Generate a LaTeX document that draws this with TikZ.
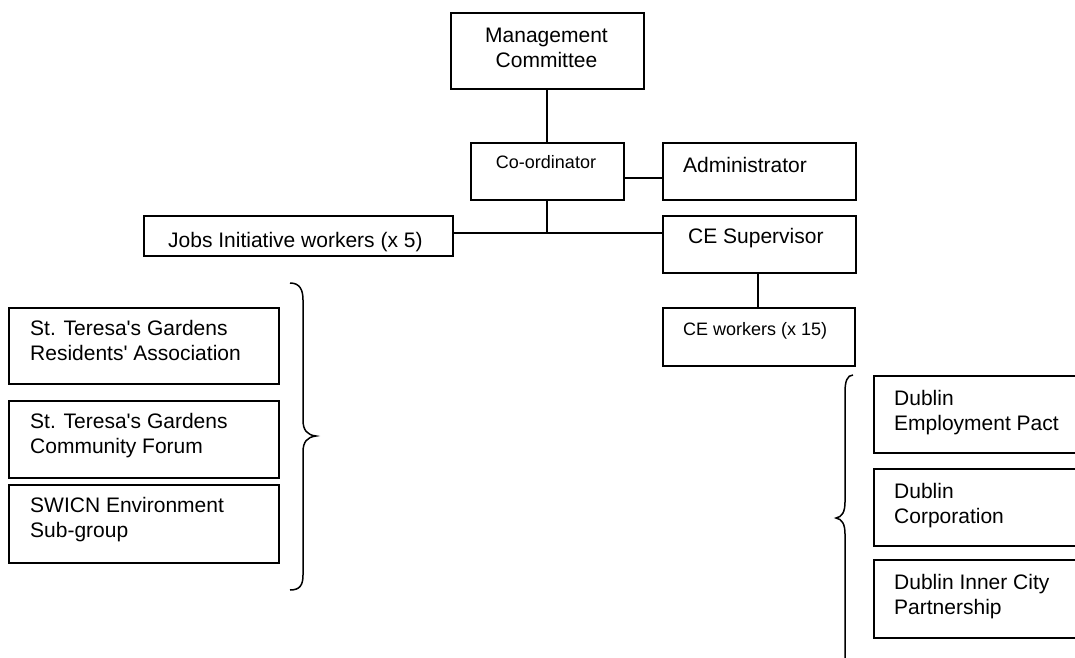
\documentclass[tikz,border=0pt]{standalone}
\usepackage{fontspec}
\setmainfont{Liberation Sans}
\begin{document}
\begin{tikzpicture}[x=1pt,y=-1pt,
  box/.style={draw,line width=1.7pt,inner sep=0pt,rectangle},
  conn/.style={line width=1.5pt},
  big/.style={font=\fontsize{21}{25}\selectfont,inner sep=0pt,align=left},
  small/.style={font=\fontsize{18}{22}\selectfont,inner sep=0pt,align=left},
  brace/.style={line width=1.5pt}]
\clip (0,0) rectangle (1075,657);
\useasboundingbox (0,0) rectangle (1075,657);
\fill[white] (0,0) rectangle (1075,657);
% boxes
\node[box,minimum width=193pt,minimum height=76pt,anchor=north west] (mc) at (450,12) {};
\node[box,minimum width=153pt,minimum height=57pt,anchor=north west] (co) at (470,142) {};
\node[box,minimum width=193pt,minimum height=57pt,anchor=north west] (ad) at (662,142) {};
\node[box,minimum width=309pt,minimum height=40pt,anchor=north west] (jb) at (143,215) {};
\node[box,minimum width=193pt,minimum height=57pt,anchor=north west] (cs) at (662,215) {};
\node[box,minimum width=192pt,minimum height=58pt,anchor=north west] (cw) at (662,307) {};
\node[box,minimum width=270pt,minimum height=76pt,anchor=north west] (l1) at (8,307) {};
\node[box,minimum width=270pt,minimum height=77pt,anchor=north west] (l2) at (8,400) {};
\node[box,minimum width=270pt,minimum height=78pt,anchor=north west] (l3) at (8,484) {};
\node[box,minimum width=220pt,minimum height=77pt,anchor=north west] (r1) at (873,375) {};
\node[box,minimum width=220pt,minimum height=77pt,anchor=north west] (r2) at (873,468) {};
\node[box,minimum width=220pt,minimum height=78pt,anchor=north west] (r3) at (873,559) {};
% texts (multi-line nodes: base = baseline of last line)
\node[big,anchor=base,align=center] (tmc) at (546.5,67) {Management\\Committee};
\node[small,anchor=base] (tco) at (546,168) {Co-ordinator};
\node[big,anchor=base west] (tad) at (683,172) {Administrator};
\node[big,anchor=base west] (tjb) at (168,247) {Jobs Initiative workers (x 5)};
\node[big,anchor=base west] (tcs) at (688,243) {CE Supervisor};
\node[small,anchor=base west] (tcw) at (683,335) {CE workers (x 15)};
\node[big,anchor=base west] (tl1) at (30,360) {St. Teresa\textquotesingle s Gardens\\Residents\textquotesingle\ Association};
\node[big,anchor=base west] (tl2) at (30,453) {St. Teresa\textquotesingle s Gardens\\Community Forum};
\node[big,anchor=base west] (tl3) at (30,537) {SWICN Environment\\Sub-group};
\node[big,anchor=base west] (tr1) at (894,430) {Dublin\\Employment Pact};
\node[big,anchor=base west] (tr2) at (894,523) {Dublin\\Corporation};
\node[big,anchor=base west] (tr3) at (894,614) {Dublin Inner City\\Partnership};
% connectors
\coordinate (j) at (547,233);
\draw[conn] (mc.south -| 547,0) -- (co.north -| 547,0);
\draw[conn] (co.east |- 0,178) -- (ad.west |- 0,178);
\draw[conn] (co.south -| 547,0) -- (j);
\draw[conn] (jb.east |- j) -- (cs.west |- j);
\draw[conn] (cs.south -| 758,0) -- (cw.north -| 758,0);
% braces
\draw[brace] (290,283) .. controls (300,283) and (303,290) .. (303,300) -- (303,420)
  .. controls (303,430) and (307,435) .. (316,436)
  .. controls (307,437) and (303,442) .. (303,452) -- (303,575)
  .. controls (303,585) and (300,590) .. (290,590);
\draw[brace] (853,375) .. controls (847,375) and (845,382) .. (845,392) -- (845,502)
  .. controls (845,512) and (842,517) .. (836,518)
  .. controls (842,519) and (845,524) .. (845,534) -- (845,670);
\end{tikzpicture}
\end{document}
